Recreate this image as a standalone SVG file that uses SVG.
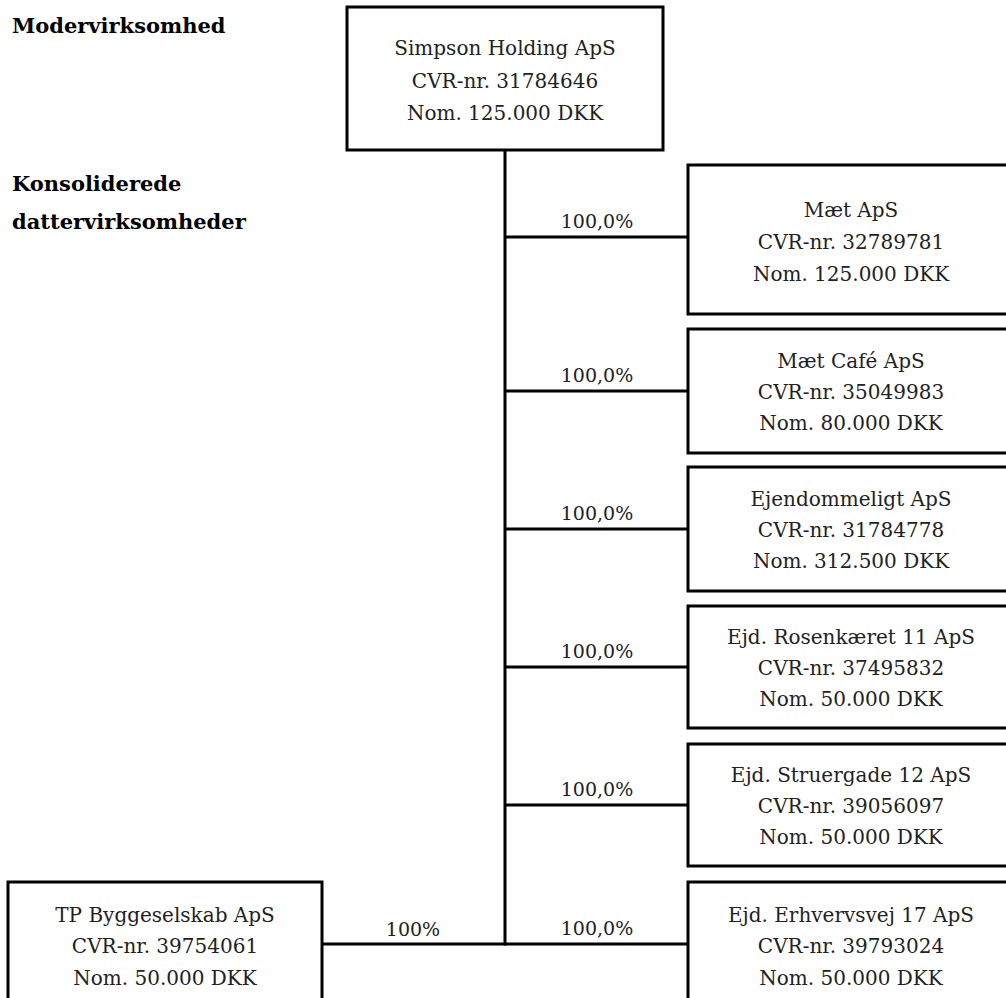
<svg xmlns="http://www.w3.org/2000/svg" width="1006" height="998" viewBox="0 0 1006 998">
<style>
.box{fill:#fff;stroke:#000;stroke-width:3}
.ln{stroke:#000;stroke-width:3;fill:none}
text{font-family:"DejaVu Serif","Liberation Serif",serif;fill:#222;font-size:20px}
.t{text-anchor:middle}
.p{font-size:19px}
.h{font-weight:bold;font-size:21px;fill:#000}
</style>
<rect width="1006" height="998" fill="#fff"/>
<g id="headings">
<text class="h" x="12" y="33">Modervirksomhed</text>
<text class="h" x="12" y="191">Konsoliderede</text>
<text class="h" x="12" y="229">dattervirksomheder</text>
</g>
<g id="connectors">
<line class="ln" x1="505" y1="150" x2="505" y2="945.5"/>
<line class="ln" x1="505" y1="237" x2="688" y2="237"/>
<line class="ln" x1="505" y1="391" x2="688" y2="391"/>
<line class="ln" x1="505" y1="529" x2="688" y2="529"/>
<line class="ln" x1="505" y1="667" x2="688" y2="667"/>
<line class="ln" x1="505" y1="805" x2="688" y2="805"/>
<line class="ln" x1="322" y1="944" x2="688" y2="944"/>
<text class="t p" x="597" y="228">100,0%</text>
<text class="t p" x="597" y="382">100,0%</text>
<text class="t p" x="597" y="520">100,0%</text>
<text class="t p" x="597" y="658">100,0%</text>
<text class="t p" x="597" y="796">100,0%</text>
<text class="t p" x="597" y="935">100,0%</text>
<text class="t p" x="413" y="936">100%</text>
</g>
<g id="parent">
<rect class="box" x="347" y="7" width="316" height="143"/>
<text class="t" x="505" y="55">Simpson Holding ApS</text>
<text class="t" x="505" y="88">CVR-nr. 31784646</text>
<text class="t" x="505" y="120">Nom. 125.000 DKK</text>
</g>
<g id="maet">
<rect class="box" x="688" y="165" width="330" height="149"/>
<text class="t" x="851" y="217">Mæt ApS</text>
<text class="t" x="851" y="249">CVR-nr. 32789781</text>
<text class="t" x="851" y="281">Nom. 125.000 DKK</text>
</g>
<g id="maetcafe">
<rect class="box" x="688" y="329" width="330" height="124"/>
<text class="t" x="851" y="368">Mæt Café ApS</text>
<text class="t" x="851" y="399">CVR-nr. 35049983</text>
<text class="t" x="851" y="430">Nom. 80.000 DKK</text>
</g>
<g id="ejendommeligt">
<rect class="box" x="688" y="467" width="330" height="124"/>
<text class="t" x="851" y="506">Ejendommeligt ApS</text>
<text class="t" x="851" y="537">CVR-nr. 31784778</text>
<text class="t" x="851" y="568">Nom. 312.500 DKK</text>
</g>
<g id="rosenkaeret">
<rect class="box" x="688" y="606" width="330" height="122"/>
<text class="t" x="851" y="644">Ejd. Rosenkæret 11 ApS</text>
<text class="t" x="851" y="675">CVR-nr. 37495832</text>
<text class="t" x="851" y="706">Nom. 50.000 DKK</text>
</g>
<g id="struergade">
<rect class="box" x="688" y="744" width="330" height="122"/>
<text class="t" x="851" y="782">Ejd. Struergade 12 ApS</text>
<text class="t" x="851" y="813">CVR-nr. 39056097</text>
<text class="t" x="851" y="844">Nom. 50.000 DKK</text>
</g>
<g id="erhvervsvej">
<rect class="box" x="688" y="882" width="330" height="130"/>
<text class="t" x="851" y="922">Ejd. Erhvervsvej 17 ApS</text>
<text class="t" x="851" y="953">CVR-nr. 39793024</text>
<text class="t" x="851" y="985">Nom. 50.000 DKK</text>
</g>
<g id="tpbyggeselskab">
<rect class="box" x="8" y="882" width="314" height="130"/>
<text class="t" x="165" y="922">TP Byggeselskab ApS</text>
<text class="t" x="165" y="953">CVR-nr. 39754061</text>
<text class="t" x="165" y="985">Nom. 50.000 DKK</text>
</g>
</svg>
